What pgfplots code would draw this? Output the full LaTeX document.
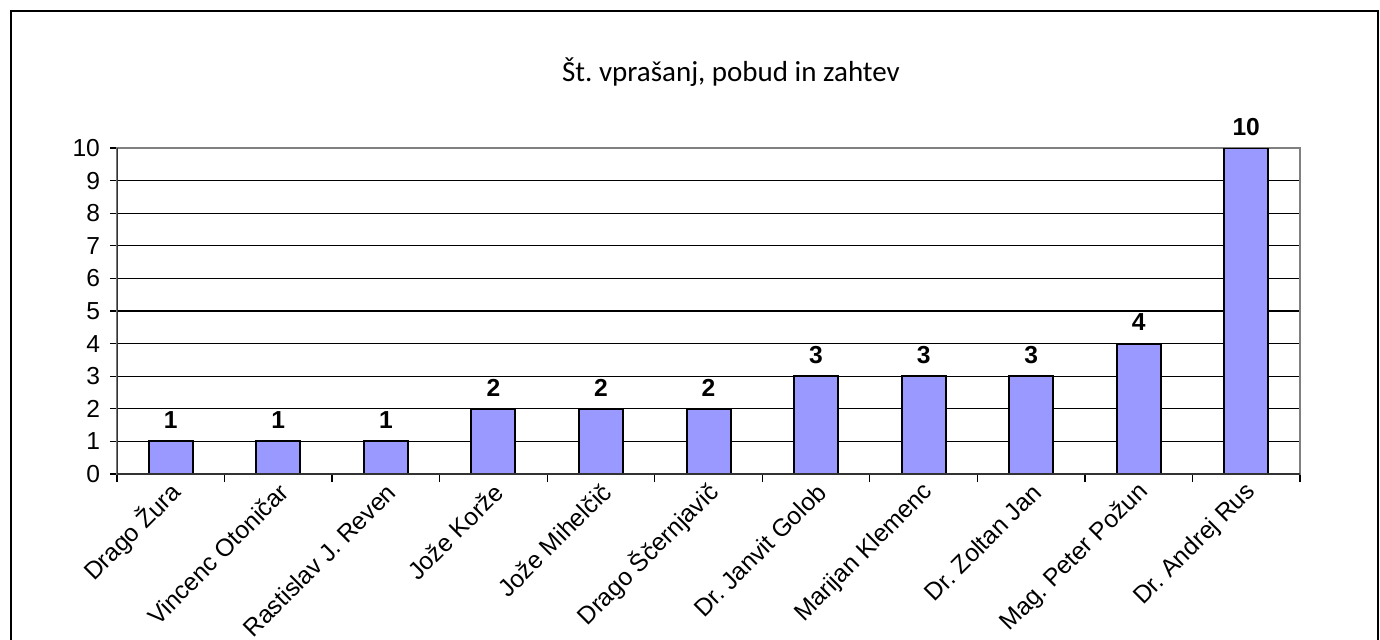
\documentclass[border=0pt]{standalone}
\usepackage{pgfplots}
\pgfplotsset{compat=1.18}
\usepackage{fontspec}
\setmainfont{Liberation Sans}
\newfontfamily\titlefont{Carlito}
\definecolor{barfill}{HTML}{9999FF}
\frenchspacing
\begin{document}
\begin{tikzpicture}[x=0.5pt,y=-0.5pt]
\useasboundingbox (0,0) rectangle (1380,639);
\clip (0,0) rectangle (1380,639);
\fill[white] (0,0) rectangle (1380,639);
\draw[line width=1pt] (11,11) rectangle (1378,700);
\node[font=\titlefont\fontsize{14.5}{17}\selectfont] at (731,72) {Št. vprašanj, pobud in zahtev};
\begin{axis}[
  at={(58.5pt,-237pt)}, anchor=south west,
  scale only axis, width=591.5pt, height=163pt,
  xmin=-0.5, xmax=10.5, ymin=0, ymax=10,
  ytick={0,...,10},
  xtick={0,...,10},
  xticklabels={Drago Žura, Vincenc Otoničar, Rastislav J. Reven, Jože Korže, Jože Mihelčič, Drago Ščernjavič, Dr. Janvit Golob, Marijan Klemenc, Dr. Zoltan Jan, Mag. Peter Požun, Dr. Andrej Rus},
  minor xtick={-0.5,0.5,...,10.5},
  xtick pos=bottom, ytick pos=left,
  ymajorgrids, major grid style={black, line width=0.6pt},
  axis line style={gray, line width=0.8pt},
  tick align=outside, major tick length=3.5pt, minor tick length=4pt,
  major x tick style={draw=none},
  tick style={black, line width=0.6pt},
  /pgf/number format/assume math mode=true,
  ticklabel style={font=\fontsize{12.3}{14}\selectfont},
  yticklabel style={xshift=-1.5pt},
  xticklabel style={rotate=45, anchor=east, xshift=3pt, yshift=-4.5pt},
  ybar, bar width=22pt,
  nodes near coords,
  every node near coord/.append style={font=\bfseries\fontsize{12.3}{14}\selectfont, yshift=2.5pt},
]
\addplot[fill=barfill, draw=black, line width=1pt] coordinates {(0,1) (1,1) (2,1) (3,2) (4,2) (5,2) (6,3) (7,3) (8,3) (9,4) (10,10)};
\draw[black!80, line width=0.8pt] (rel axis cs:0,1) -- (rel axis cs:0,0) -- (rel axis cs:1,0);
\end{axis}
\end{tikzpicture}
\end{document}
